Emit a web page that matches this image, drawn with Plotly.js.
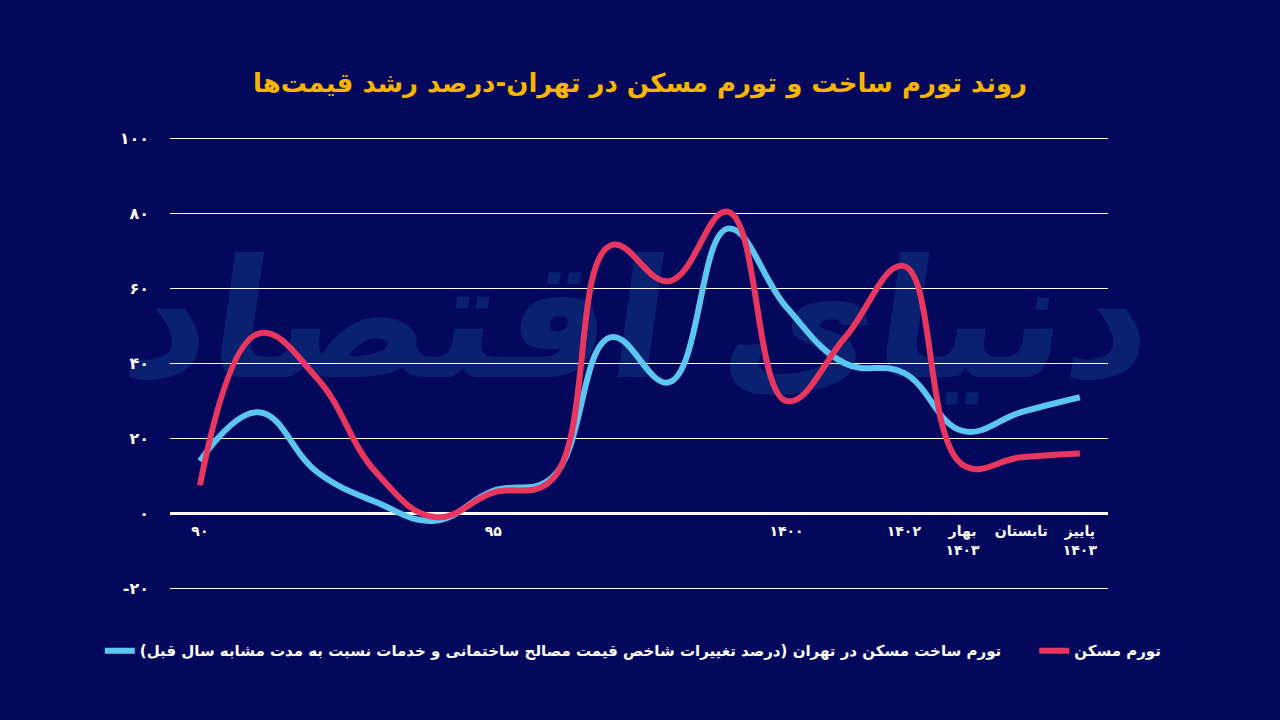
<!DOCTYPE html>
<html>
<head>
<meta charset="utf-8">
<script src="https://cdn.plot.ly/plotly-3.0.1.min.js"></script>
<style>
  html, body { margin: 0; padding: 0; background: #03085c; }
  #wrap { position: relative; width: 1280px; height: 720px; overflow: hidden; }
  #watermark {
    position: absolute; left: 105px; top: 150px; width: 1070px; height: 340px;
    display: flex; align-items: center; justify-content: center;
    font-family: "DejaVu Sans", sans-serif; font-weight: bold; font-size: 165px;
    color: #0a2070; direction: rtl; white-space: nowrap;
    transform: skewX(-8deg);
  }
  #chart { position: absolute; left: 0; top: 0; width: 1280px; height: 720px; }
</style>
</head>
<body>
<div id="wrap">
  <div id="watermark">دنیای اقتصاد</div>
  <div id="chart"></div>
</div>
<script>
// دوره‌ها (سالانه تا ۱۴۰۲، سپس فصلی)
const periods = ['90', '91', '92', '93', '94', '95', '96', '97', '98', '99',
  '1400', '1401', '1402', 'بهار 1403', 'تابستان 1403', 'پاییز 1403'];

// تورم ساخت مسکن در تهران
const buildInflation = [14, 27, 11, 3, -2, 6, 9.5, 47, 35, 76, 55, 40, 37.5, 22, 27, 31];
// تورم مسکن
const housingInflation = [7.5, 48, 36, 11, -1, 5.5, 9, 71.5, 62, 80.5, 30, 47, 66, 13, 15, 16];

const tickPeriods = ['90', '95', '1400', '1402', 'بهار 1403', 'تابستان 1403', 'پاییز 1403'];
const tickLabels = ['۹۰', '۹۵', '۱۴۰۰', '۱۴۰۲', 'بهار<br>۱۴۰۳', 'تابستان', 'پاییز<br>۱۴۰۳'];

const yTicks = [-20, 0, 20, 40, 60, 80, 100];
// LRO/PDF keep the minus sign on the left of the Persian digits
const yLabels = ['\u202D-۲۰\u202C', '۰', '۲۰', '۴۰', '۶۰', '۸۰', '۱۰۰'];

const fontFa = '"DejaVu Sans", sans-serif';

const data = [
  {
    x: periods,
    y: buildInflation,
    type: 'scatter',
    mode: 'lines',
    name: 'تورم ساخت مسکن در تهران (درصد تغییرات شاخص قیمت مصالح ساختمانی و خدمات نسبت به مدت مشابه سال قبل)',
    line: { color: '#5cc6f3', width: 6, shape: 'spline', smoothing: 1.2 },
    legend: 'legend'
  },
  {
    x: periods,
    y: housingInflation,
    type: 'scatter',
    mode: 'lines',
    name: 'تورم مسکن',
    line: { color: '#e8365e', width: 6, shape: 'spline', smoothing: 1.2 },
    legend: 'legend2'
  }
];

const legendFont = { family: fontFa, size: 15, color: '#ffffff', weight: 'bold' };

const layout = {
  width: 1280,
  height: 720,
  paper_bgcolor: 'rgba(0,0,0,0)',
  plot_bgcolor: 'rgba(0,0,0,0)',
  margin: { l: 170, r: 172, t: 135, b: 128 },
  font: { family: fontFa, color: '#ffffff' },
  title: {
    text: '<b>روند تورم ساخت و تورم مسکن در تهران-درصد رشد قیمت‌ها</b>',
    font: { family: fontFa, size: 26, color: '#f7b500' },
    x: 0.5,
    xanchor: 'center',
    y: 0.885,
    yanchor: 'middle'
  },
  xaxis: {
    type: 'category',
    range: [-0.51, 15.48],
    tickmode: 'array',
    tickvals: tickPeriods,
    ticktext: tickLabels,
    tickfont: { family: fontFa, size: 14, color: '#ffffff', weight: 'bold' },
    showgrid: false,
    showline: false,
    zeroline: false,
    ticks: '',
    anchor: 'free',
    position: 21 / 122,
    ticklabelstandoff: 8,
    fixedrange: true
  },
  yaxis: {
    range: [-21, 101],
    tickmode: 'array',
    tickvals: yTicks,
    ticktext: yLabels,
    tickfont: { family: fontFa, size: 16, color: '#ffffff', weight: 'bold' },
    showgrid: true,
    gridcolor: '#ffffff',
    gridwidth: 1,
    zeroline: true,
    zerolinecolor: '#ffffff',
    zerolinewidth: 3,
    showline: false,
    ticklabelstandoff: 20,
    fixedrange: true
  },
  showlegend: true,
  legend: {
    orientation: 'h',
    xref: 'container',
    yref: 'container',
    x: 0.078,
    xanchor: 'left',
    y: 0.096,
    yanchor: 'middle',
    font: legendFont,
    bgcolor: 'rgba(0,0,0,0)'
  },
  legend2: {
    orientation: 'h',
    xref: 'container',
    yref: 'container',
    x: 0.808,
    xanchor: 'left',
    y: 0.096,
    yanchor: 'middle',
    font: legendFont,
    bgcolor: 'rgba(0,0,0,0)'
  }
};

Plotly.newPlot('chart', data, layout, { displayModeBar: false, staticPlot: true });
</script>
</body>
</html>
